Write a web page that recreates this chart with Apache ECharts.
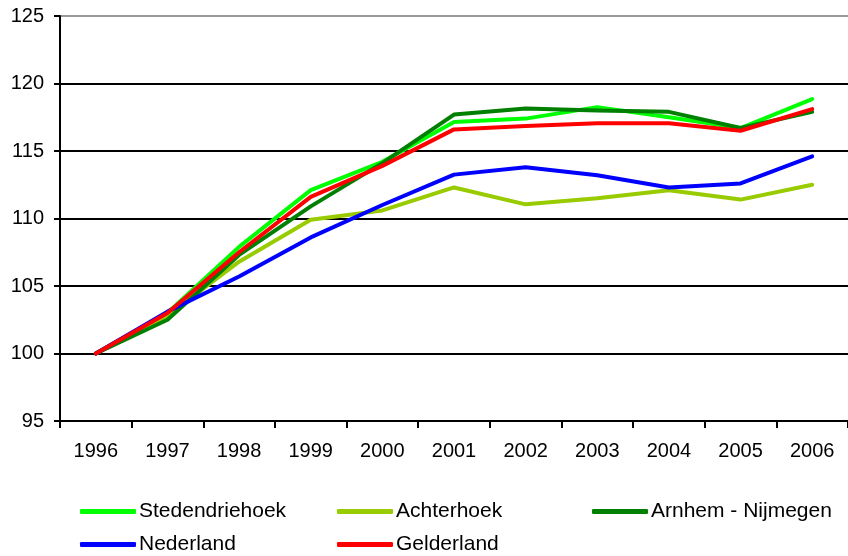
<!DOCTYPE html>
<html>
<head>
<meta charset="utf-8">
<script src="https://cdn.jsdelivr.net/npm/echarts@6/dist/echarts.min.js"></script>
<style>html,body{margin:0;padding:0;background:#fff}#c{width:848px;height:556px}</style>
</head>
<body>
<div id="c"></div>
<script>
var years = ['1996','1997','1998','1999','2000','2001','2002','2003','2004','2005','2006'];
var stedendriehoek = [100, 103.0, 107.9, 112.1, 114.2, 117.15, 117.4, 118.25, 117.5, 116.7, 118.85];
var achterhoek     = [100, 102.8, 106.8, 109.9, 110.6, 112.3, 111.05, 111.5, 112.1, 111.4, 112.5];
var arnhemNijmegen = [100, 102.5, 107.3, 110.9, 114.1, 117.7, 118.15, 118.0, 117.9, 116.7, 117.9];
var nederland      = [100, 103.1, 105.7, 108.6, 111.0, 113.25, 113.8, 113.2, 112.3, 112.6, 114.6];
var gelderland     = [100, 103.0, 107.5, 111.6, 113.9, 116.6, 116.85, 117.05, 117.05, 116.5, 118.1];
var yTicks = [95, 100, 105, 110, 115, 120, 125];

var names = ['Stedendriehoek','Achterhoek','Arnhem - Nijmegen','Nederland','Gelderland'];
var colors = ['#00FF00','#99CC00','#008000','#0000FF','#FF0000'];
var datas = [stedendriehoek, achterhoek, arnhemNijmegen, nederland, gelderland];
var legendPos = [[80,501],[337,501],[592,501],[80,534],[337,534]];

var font = 'Arial, "Liberation Sans", sans-serif';
var legends = names.map(function(n,i){
  return {
    data:[n], left: legendPos[i][0], top: legendPos[i][1],
    icon:'roundRect', itemWidth:56, itemHeight:5, padding:0,
    textStyle:{fontFamily:font, fontSize:21, color:'#000', padding:[0,0,0,-2]}
  };
});

var chart = echarts.init(document.getElementById('c'));
chart.setOption({
  backgroundColor:'#fff',
  animation:false,
  grid:{left:60, top:16, right:-6, bottom:135},
  legend: legends,
  xAxis:{
    type:'category', data:years, boundaryGap:true,
    axisLine:{lineStyle:{color:'#000', width:2}},
    axisTick:{show:true, length:7, lineStyle:{color:'#000', width:2}},
    axisLabel:{fontFamily:font, fontSize:20, color:'#000', margin:20}
  },
  yAxis:{
    type:'value', min:yTicks[0], max:yTicks[yTicks.length-1], interval:5,
    axisLine:{show:true, lineStyle:{color:'#000', width:2}},
    axisTick:{show:true, length:6, lineStyle:{color:'#000', width:2}},
    axisLabel:{fontFamily:font, fontSize:20, color:'#000', margin:16},
    splitLine:{show:true, lineStyle:{color:['#000','#000','#000','#000','#000','#000','#999'], width:2}}
  },
  series: names.map(function(n,i){
    return {
      name:n, type:'line', data:datas[i], symbol:'none',
      lineStyle:{color:colors[i], width:4, cap:'round', join:'round'},
      itemStyle:{color:colors[i]}
    };
  })
});
</script>
</body>
</html>
